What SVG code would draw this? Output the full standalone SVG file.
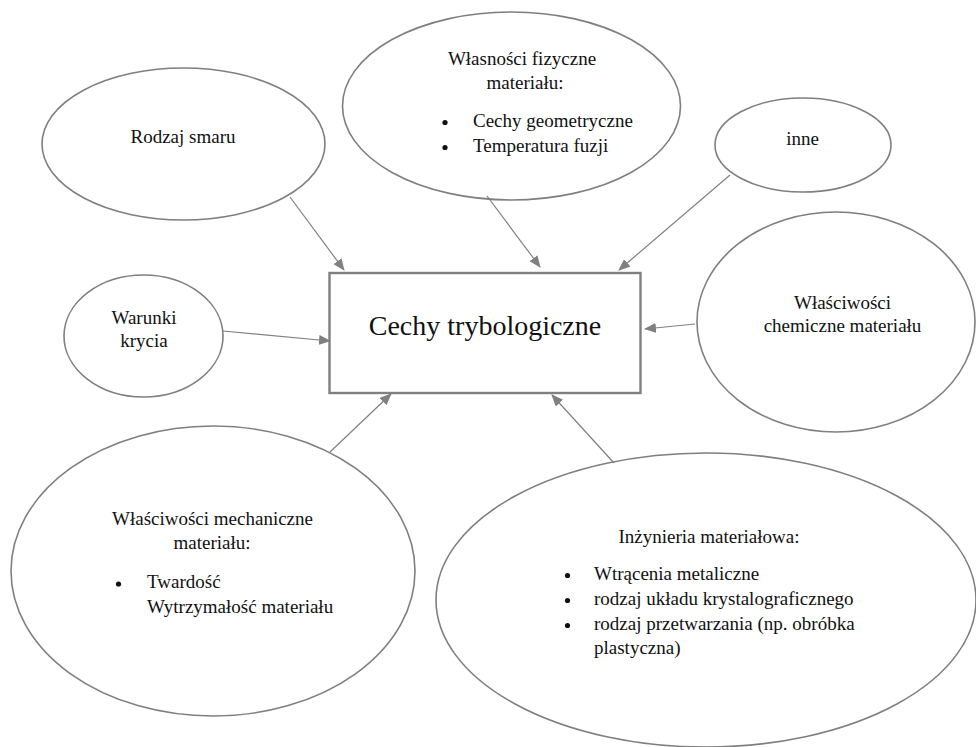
<svg xmlns="http://www.w3.org/2000/svg" width="976" height="747" viewBox="0 0 976 747">
  <style>
    .node { fill: #ffffff; stroke: #7f7f7f; stroke-width: 1.6; }
    .box { fill: #ffffff; stroke: #808080; stroke-width: 2.4; }
    .lbl { font-family: "Liberation Serif", "Times New Roman", serif; font-size: 19px; fill: #111111; }
    .mid { text-anchor: middle; }
    .title { font-family: "Liberation Serif", "Times New Roman", serif; font-size: 28px; fill: #111111; text-anchor: middle; }
    .dot { fill: #111111; }
    .conn line { stroke: #808080; stroke-width: 1.2; marker-end: url(#arrow); }
  </style>
  <defs>
    <marker id="arrow" markerWidth="12" markerHeight="10" refX="11" refY="5" orient="auto" markerUnits="userSpaceOnUse">
      <path d="M0,0 L12,5 L0,10 z" fill="#808080"/>
    </marker>
  </defs>
  <rect width="976" height="747" fill="#ffffff"/>

  <g id="inzynieria">
    <ellipse class="node" cx="706" cy="600" rx="270" ry="147"/>
    <text class="lbl mid" x="709" y="543">Inżynieria materiałowa:</text>
    <circle class="dot" cx="567.5" cy="575.5" r="2.6"/>
    <text class="lbl" x="594" y="580">Wtrącenia metaliczne</text>
    <circle class="dot" cx="567.5" cy="600.5" r="2.6"/>
    <text class="lbl" x="594" y="605">rodzaj układu krystalograficznego</text>
    <circle class="dot" cx="567.5" cy="625.5" r="2.6"/>
    <text class="lbl" x="594" y="630">rodzaj przetwarzania (np. obróbka</text>
    <text class="lbl" x="594" y="654">plastyczna)</text>
  </g>

  <g id="mechaniczne">
    <ellipse class="node" cx="213" cy="571" rx="202" ry="145"/>
    <text class="lbl mid" x="212.5" y="525">Właściwości mechaniczne</text>
    <text class="lbl mid" x="212" y="549">materiału:</text>
    <circle class="dot" cx="118.5" cy="584" r="2.6"/>
    <text class="lbl" x="147" y="588">Twardość</text>
    <text class="lbl" x="147" y="613">Wytrzymałość materiału</text>
  </g>

  <g id="rodzaj-smaru">
    <ellipse class="node" cx="183.5" cy="144" rx="141.5" ry="76"/>
    <text class="lbl mid" x="183" y="143">Rodzaj smaru</text>
  </g>

  <g id="fizyczne">
    <ellipse class="node" cx="511.5" cy="106" rx="169" ry="94"/>
    <text class="lbl mid" x="522" y="65">Własności fizyczne</text>
    <text class="lbl mid" x="525" y="89">materiału:</text>
    <circle class="dot" cx="445" cy="122.5" r="2.6"/>
    <text class="lbl" x="473" y="127">Cechy geometryczne</text>
    <circle class="dot" cx="445" cy="147.5" r="2.6"/>
    <text class="lbl" x="473" y="152">Temperatura fuzji</text>
  </g>

  <g id="inne">
    <ellipse class="node" cx="803" cy="145" rx="88" ry="47"/>
    <text class="lbl mid" x="802.5" y="145">inne</text>
  </g>

  <g id="chemiczne">
    <ellipse class="node" cx="836" cy="322" rx="139" ry="110"/>
    <text class="lbl mid" x="842.5" y="309">Właściwości</text>
    <text class="lbl mid" x="842.5" y="332">chemiczne materiału</text>
  </g>

  <g id="warunki">
    <ellipse class="node" cx="143.5" cy="336" rx="79.5" ry="61"/>
    <text class="lbl mid" x="144" y="324">Warunki</text>
    <text class="lbl mid" x="144" y="347">krycia</text>
  </g>

  <g id="cechy">
    <rect class="box" x="329.5" y="273" width="311" height="120"/>
    <text class="title" x="485" y="335">Cechy trybologiczne</text>
  </g>

  <g id="connectors" class="conn">
    <line x1="290" y1="197" x2="344" y2="270"/>
    <line x1="487" y1="196" x2="540" y2="267"/>
    <line x1="730" y1="175" x2="619" y2="270"/>
    <line x1="223" y1="331" x2="330" y2="341"/>
    <line x1="695" y1="324" x2="645" y2="329"/>
    <line x1="330" y1="452" x2="391" y2="394"/>
    <line x1="614" y1="463" x2="552" y2="395"/>
  </g>
</svg>
